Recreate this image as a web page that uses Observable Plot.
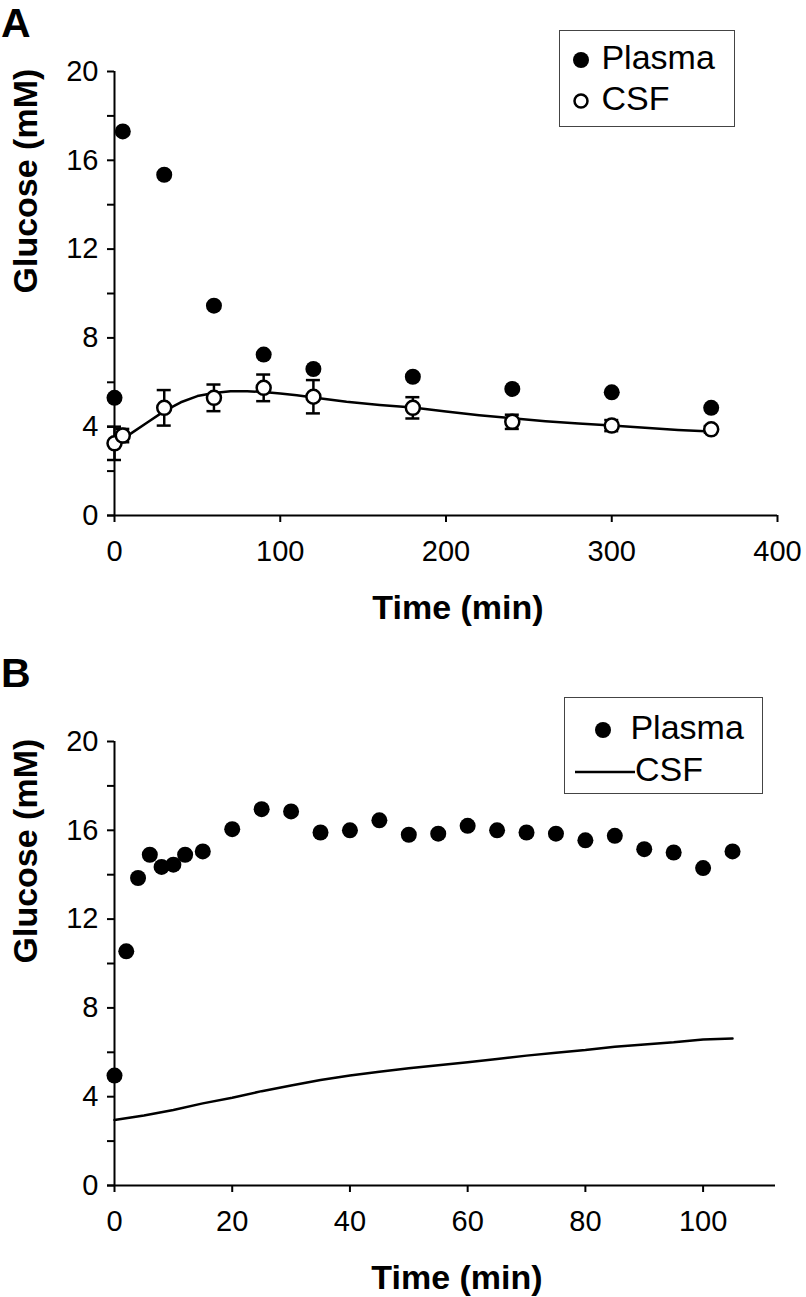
<!DOCTYPE html>
<html>
<head>
<meta charset="utf-8">
<script src="https://cdn.jsdelivr.net/npm/d3@7"></script>
<script src="https://cdn.jsdelivr.net/npm/@observablehq/plot@0.6"></script>
<style>
  html, body { margin: 0; padding: 0; background: white; }
  #wrap { position: relative; width: 806px; height: 1297px; font-family: "Liberation Sans", Arial, sans-serif; color: black; }
  .panel { position: absolute; left: 0; }
  .letter { position: absolute; left: 1px; font-weight: bold; font-size: 41px; line-height: 1.15; }
  .legend { position: absolute; border: 1.2px solid #444; background: white; font-size: 34px; }
  .legend .row { position: absolute; white-space: nowrap; line-height: 1; }
</style>
</head>
<body>
<div id="wrap"></div>
<script>
// ---------- Panel A data ----------
const timeA = [0, 5, 30, 60, 90, 120, 180, 240, 300, 360];
const plasmaA = [5.3, 17.3, 15.35, 9.45, 7.25, 6.6, 6.25, 5.7, 5.55, 4.85];
const csfA = [3.25, 3.6, 4.85, 5.3, 5.75, 5.35, 4.85, 4.22, 4.05, 3.88];
const csfAErr = [0.75, 0.3, 0.8, 0.6, 0.6, 0.75, 0.48, 0.32, 0.25, 0.15];
const fitTimeA = [0, 5, 10, 20, 30, 40, 50, 60, 70, 80, 90, 100, 110, 120, 140, 160, 180, 200, 220, 240, 260, 280, 300, 320, 340, 360];
const fitCsfA = [3.2, 3.45, 3.7, 4.2, 4.7, 5.1, 5.38, 5.52, 5.6, 5.6, 5.56, 5.5, 5.42, 5.32, 5.12, 4.98, 4.86, 4.68, 4.52, 4.38, 4.25, 4.14, 4.05, 3.95, 3.85, 3.78];
const xTicksA = [0, 100, 200, 300, 400];

// ---------- Panel B data ----------
const timeB = [0, 2, 4, 6, 8, 10, 12, 15, 20, 25, 30, 35, 40, 45, 50, 55, 60, 65, 70, 75, 80, 85, 90, 95, 100, 105];
const plasmaB = [4.95, 10.55, 13.85, 14.9, 14.35, 14.45, 14.9, 15.05, 16.05, 16.95, 16.85, 15.9, 16.0, 16.45, 15.8, 15.85, 16.2, 16.0, 15.9, 15.85, 15.55, 15.75, 15.15, 15.0, 14.3, 15.05];
const csfTimeB = [0, 5, 10, 15, 20, 25, 30, 35, 40, 45, 50, 55, 60, 65, 70, 75, 80, 85, 90, 95, 100, 105];
const csfB = [2.95, 3.15, 3.4, 3.7, 3.95, 4.25, 4.5, 4.75, 4.95, 5.12, 5.28, 5.42, 5.55, 5.7, 5.85, 5.98, 6.1, 6.25, 6.35, 6.45, 6.58, 6.62];
const xTicksB = [0, 20, 40, 60, 80, 100];

const yTicks = d3.range(0, 21, 2);
const yLabelEvery = 4;
const seriesNames = ["Plasma", "CSF"];
const xTitle = "Time (min)";
const yTitle = "Glucose (mM)";

const FONT = '"Liberation Sans", Arial, sans-serif';

const plasmaAData = timeA.map((t, i) => ({t, v: plasmaA[i]}));
const csfAData = timeA.map((t, i) => ({t, v: csfA[i], lo: csfA[i] - csfAErr[i], hi: csfA[i] + csfAErr[i]}));
const fitAData = fitTimeA.map((t, i) => ({t, v: fitCsfA[i]}));
const plasmaBData = timeB.map((t, i) => ({t, v: plasmaB[i]}));
const csfBData = csfTimeB.map((t, i) => ({t, v: csfB[i]}));

function axes(xTicks) {
  return [
    Plot.axisY({ticks: yTicks, tickFormat: d => d % yLabelEvery === 0 ? String(d) : "", tickSize: 7, tickPadding: 9, strokeWidth: 2, fontSize: 29, label: null}),
    Plot.axisX({ticks: xTicks, tickSize: 7, tickPadding: 18, strokeWidth: 2, fontSize: 29, label: null}),
    Plot.ruleX([0], {strokeWidth: 2}),
    Plot.ruleY([0], {strokeWidth: 2, insetLeft: -7}),
    Plot.text([xTitle], {frameAnchor: "bottom", dy: 103, dx: 12, fontSize: 34, fontWeight: "bold"}),
    Plot.text([yTitle], {frameAnchor: "left", rotate: -90, dx: -88, fontSize: 34, fontWeight: "bold"})
  ];
}

const plotA = Plot.plot({
  width: 806, height: 640,
  marginLeft: 114, marginRight: 29, marginTop: 71, marginBottom: 125,
  x: {domain: [0, 400]},
  y: {domain: [0, 20]},
  style: {fontFamily: FONT, fontSize: "29px", color: "black", background: "white", overflow: "visible"},
  marks: [
    ...axes(xTicksA),
    Plot.line(fitAData, {x: "t", y: "v", stroke: "black", strokeWidth: 2.5}),
    Plot.ruleX(csfAData, {x: "t", y1: "lo", y2: "hi", stroke: "black", strokeWidth: 2.5}),
    Plot.ruleY(csfAData, {y: "hi", x1: "t", x2: "t", insetLeft: -7, insetRight: -7, stroke: "black", strokeWidth: 2.5}),
    Plot.ruleY(csfAData, {y: "lo", x1: "t", x2: "t", insetLeft: -7, insetRight: -7, stroke: "black", strokeWidth: 2.5}),
    Plot.dot(plasmaAData, {x: "t", y: "v", r: 8, fill: "black", stroke: "none"}),
    Plot.dot(csfAData, {x: "t", y: "v", r: 7, fill: "white", stroke: "black", strokeWidth: 2.5})
  ]
});

const plotB = Plot.plot({
  width: 806, height: 647,
  marginLeft: 114, marginRight: 31, marginTop: 91, marginBottom: 112,
  x: {domain: [0, 112.3]},
  y: {domain: [0, 20]},
  style: {fontFamily: FONT, fontSize: "29px", color: "black", background: "white", overflow: "visible"},
  marks: [
    ...axes(xTicksB),
    Plot.line(csfBData, {x: "t", y: "v", stroke: "black", strokeWidth: 2.5}),
    Plot.dot(plasmaBData, {x: "t", y: "v", r: 8, fill: "black", stroke: "none"})
  ]
});

const wrap = document.getElementById("wrap");
function panel(top, plot, letter, legendHTML) {
  const d = document.createElement("div");
  d.className = "panel";
  d.style.top = top + "px";
  d.appendChild(plot);
  const l = document.createElement("div");
  l.className = "letter";
  l.style.top = "0px";
  l.textContent = letter;
  d.appendChild(l);
  d.insertAdjacentHTML("beforeend", legendHTML);
  wrap.appendChild(d);
}

const legendA = `
<div class="legend" style="left:559px; top:30px; width:174px; height:95px;">
  <div class="row" style="left:10px; top:9px;"><svg width="22" height="34" style="vertical-align:middle"><circle cx="11" cy="17" r="8" fill="black"/></svg> ${seriesNames[0]}</div>
  <div class="row" style="left:10px; top:50px;"><svg width="22" height="34" style="vertical-align:middle"><circle cx="11" cy="17" r="6.5" fill="white" stroke="black" stroke-width="2.5"/></svg> ${seriesNames[1]}</div>
</div>`;

const legendB = `
<div class="legend" style="left:564px; top:47px; width:197px; height:95px;">
  <div class="row" style="left:26px; top:12px;"><svg width="30" height="34" style="vertical-align:middle"><circle cx="12" cy="17" r="8" fill="black"/></svg>&nbsp;${seriesNames[0]}</div>
  <div class="row" style="left:10px; top:54px;"><svg width="60" height="34" style="vertical-align:middle"><line x1="0" y1="17" x2="60" y2="17" stroke="black" stroke-width="2.5"/></svg>${seriesNames[1]}</div>
</div>`;

panel(0, plotA, "A", legendA);
panel(650, plotB, "B", legendB);
</script>
</body>
</html>
